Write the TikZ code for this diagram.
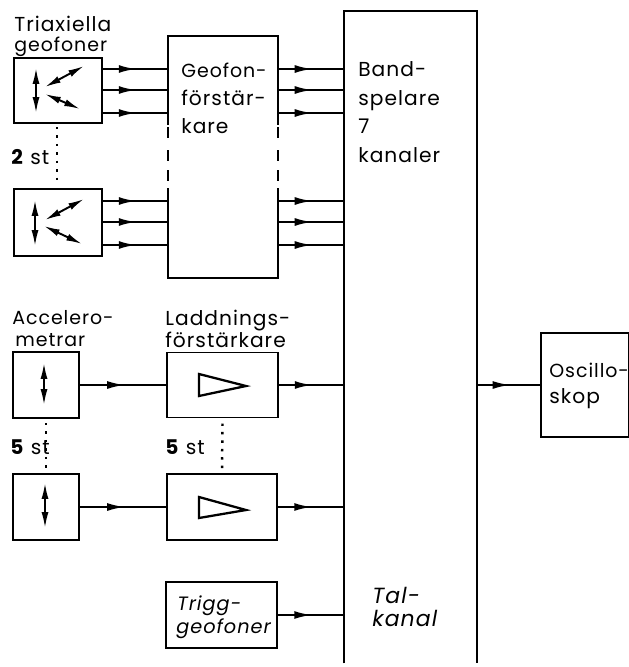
\documentclass[tikz,border=0pt]{standalone}
\usepackage{fontspec}
\setmainfont[LetterSpace=5]{Poppins}
\usetikzlibrary{arrows.meta,decorations.markings}
\tikzset{
  box/.style={draw, line width=1.1pt, inner sep=0pt, outer sep=0pt},
  bare/.style={inner sep=0pt, outer sep=0pt},
  txt/.style={anchor=base west, inner sep=0pt, font=\fontsize{11.5}{11.5}\selectfont},
  txts/.style={anchor=base west, inner sep=0pt, font=\fontsize{10.8}{10.8}\selectfont},
  hand/.style={anchor=base west, inner sep=0pt, font=\fontsize{11}{11}\selectfont\itshape},
  handb/.style={anchor=base west, inner sep=0pt, font=\fontsize{12.5}{12.5}\selectfont\itshape},
  wire/.style={line width=1.2pt, postaction={decorate},
    decoration={markings, mark=at position 0.52 with {\arrow{Latex[length=10pt,width=4.5pt]}}}},
  dbl/.style={line width=1.1pt, {Latex[length=9pt,width=4pt]}-{Latex[length=9pt,width=4pt]}},
  dots/.style={line width=1.4pt, dash pattern=on 1.4pt off 3.4pt},
  amp/.style={line width=1.3pt}
}
\begin{document}
\begin{tikzpicture}[x=0.02cm,y=-0.02cm]
  \useasboundingbox (0,0) rectangle (629,667);

  \node[box, minimum width=50.1pt, minimum height=37pt] (geoA) at (58,90.5) {};
  \node[box, minimum width=50.1pt, minimum height=38pt] (geoB) at (58,222.5) {};
  \node[bare, minimum width=62.6pt, minimum height=137.7pt] (gf) at (223,157) {};
  \node[bare, minimum width=75.7pt, minimum height=371.5pt] (bs) at (410.5,337) {};
  \node[box, minimum width=50.1pt, minimum height=59.7pt] (osc) at (585,385) {};
  \node[box, minimum width=37.6pt, minimum height=37.6pt] (accA) at (46,385) {};
  \node[box, minimum width=37.6pt, minimum height=37.6pt] (accB) at (46,507) {};
  \node[box, minimum width=63.2pt, minimum height=37pt] (ladA) at (222.5,385) {};
  \node[box, minimum width=62.6pt, minimum height=37.6pt] (ladB) at (222,507) {};
  \node[box, minimum width=63.2pt, minimum height=37.6pt] (trg) at (221.5,615) {};

  \draw[line width=1.1pt] (gf.west |- 0,125) -- (gf.north west) -- (gf.north east) -- (gf.east |- 0,125);
  \draw[line width=1.1pt] (gf.west |- 0,188) -- (gf.south west) -- (gf.south east) -- (gf.east |- 0,188);
  \foreach \y in {127,150,170} {
    \draw[line width=1.1pt] (gf.west |- 0,\y) -- (gf.west |- 0,\y+11);
    \draw[line width=1.1pt] (gf.east |- 0,\y) -- (gf.east |- 0,\y+11);
  }
  \draw[line width=1.1pt] (bs.south west) -- (bs.north west) -- (bs.north east) -- (bs.south east);

  \foreach \y in {69,90,113} {
    \draw[wire] (geoA.east |- 0,\y) -- (gf.west |- 0,\y);
    \draw[wire] (gf.east |- 0,\y) -- (bs.west |- 0,\y);
  }
  \foreach \y in {201,222,245} {
    \draw[wire] (geoB.east |- 0,\y) -- (gf.west |- 0,\y);
    \draw[wire] (gf.east |- 0,\y) -- (bs.west |- 0,\y);
  }
  \draw[wire] (accA.east) -- (ladA.west);
  \draw[wire] (accB.east) -- (ladB.west);
  \draw[wire] (ladA.east) -- (bs.west |- ladA.east);
  \draw[wire] (ladB.east) -- (bs.west |- ladB.east);
  \draw[wire] (trg.east) -- (bs.west |- trg.east);
  \draw[wire] (bs.east |- osc.west) -- (osc.west);

  \draw[dbl] (36,68) -- (36,113);
  \draw[dbl] (45,87) -- (84,66);
  \draw[dbl] (45,94) -- (80,109);
  \draw[dbl] (35,200) -- (35,246);
  \draw[dbl] (45,220) -- (84,199);
  \draw[dbl] (44,226) -- (82,244);
  \draw[dbl] (44,363) -- (44,405);
  \draw[dbl] (45,483) -- (45,528);

  \draw[amp] (199,374) -- (246,386) -- (199,396) -- cycle;
  \draw[amp] (199,497) -- (246,510) -- (199,518) -- cycle;

  \draw[dots] (geoA.south -| 57,0) ++(0,4) -- (57,185);
  \draw[dots] (accA.south) ++(0,5) -- (46,470);
  \draw[dots] (ladA.south) ++(0,6) -- (222,472);

  \node[txt] (tA) at (14,31) {Triaxiella};
  \node[txts] (tB) at (14,51) {geofoner};
  \node[txt] (tC) at (11,164) {\textbf{2} st};
  \node[txts] (tD) at (181,77) {Geofon-};
  \node[txt] (tE) at (181,105) {förstär-};
  \node[txt] (tF) at (181,133) {kare};
  \node[txt] (tG) at (358,76) {Band-};
  \node[txt] (tH) at (358,105) {spelare};
  \node[txt] (tI) at (358,133) {7};
  \node[txt] (tJ) at (358,162) {kanaler};
  \node[txts] (tK) at (12,324) {Accelero-};
  \node[txts] (tL) at (15,346) {metrar};
  \node[txt] (tM) at (165,325) {Laddnings-};
  \node[txt] (tN) at (165,347) {förstärkare};
  \node[txt] (tO) at (10,454) {\textbf{5} st};
  \node[txt] (tP) at (165,454) {\textbf{5} st};
  \node[hand] (tQ) at (177,610) {Trigg-};
  \node[hand] (tR) at (176,633) {geofoner};
  \node[handb] (tS) at (372,603) {Tal-};
  \node[handb] (tT) at (372,626) {kanal};
  \node[txts] (tU) at (549,377) {Oscillo-};
  \node[txt] (tV) at (549,403) {skop};
\end{tikzpicture}
\end{document}
